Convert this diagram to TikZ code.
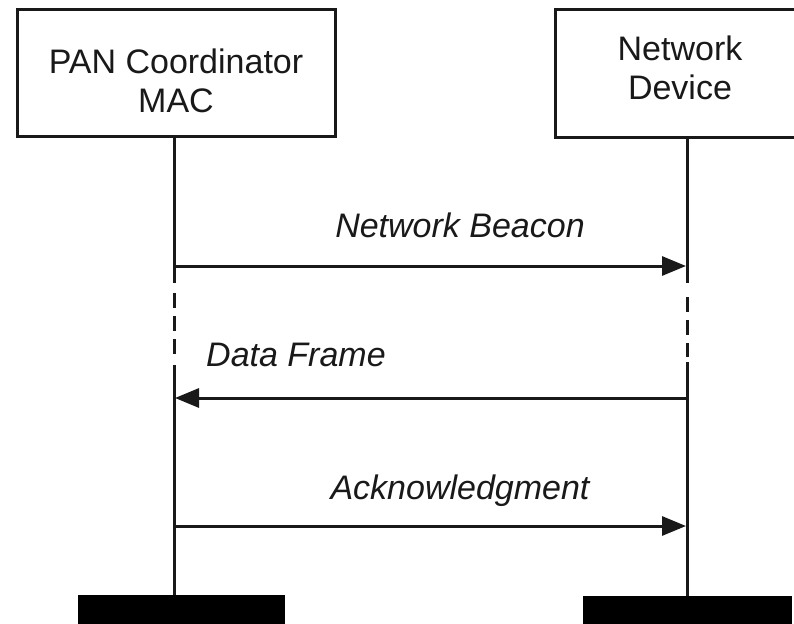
\documentclass[tikz,border=0pt]{standalone}
\usepackage{fontspec}
\setmainfont{Liberation Sans}
\usetikzlibrary{arrows.meta}
\begin{document}
\begin{tikzpicture}[x=1pt,y=-1pt,
  ln/.style={line width=3pt,draw=black!90},
  actor/.style={draw=black!90,line width=3pt,rectangle,inner sep=0pt},
  boxtext/.style={font=\fontsize{34}{39.5}\selectfont,align=center,inner sep=0pt,text=black!90},
  msg/.style={font=\fontsize{34}{40}\selectfont\itshape,inner sep=0pt,text=black!90},
  arr/.style={ln,-{Triangle[length=24pt,width=19pt]}},
  bar/.style={fill=black,inner sep=0pt,rectangle},
  dsh/.style={ln,dash pattern=on 15pt off 8pt}]
\useasboundingbox (0,0) rectangle (794,623);
\clip (0,0) rectangle (794,623);
\fill[white] (0,0) rectangle (794,623);
% actor boxes
\node[actor,minimum width=318pt,minimum height=126pt] (pan) at (176,73) {};
\node[actor,minimum width=250pt,minimum height=127pt] (dev) at (680,73.5) {};
\node[boxtext] (pantxt) at (176,81) {PAN Coordinator\\MAC};
\node[boxtext] (devtxt) at (680,68) {Network\\Device};
% bottom bars
\node[bar,minimum width=207pt,minimum height=40pt] (barL) at (181.5,615) {};
\node[bar,minimum width=209pt,minimum height=40pt] (barR) at (687.5,616) {};
% lifeline coordinates
\coordinate (Ltop) at (174,136);
\coordinate (La) at (174,283);
\coordinate (Lb) at (174,293);
\coordinate (Lc) at (174,358);
\coordinate (Ld) at (174,365);
\coordinate (Lbot) at (174,595);
\coordinate (Rtop) at (687,137);
\coordinate (Ra) at (687,283);
\coordinate (Rb) at (687,297);
\coordinate (Rc) at (687,357);
\coordinate (Rd) at (687,362);
\coordinate (Rbot) at (687,596);
\draw[ln] (Ltop) -- (La);
\draw[dsh] (Lb) -- (Lc);
\draw[ln] (Ld) -- (Lbot);
\draw[ln] (Rtop) -- (Ra);
\draw[dsh] (Rb) -- (Rc);
\draw[ln] (Rd) -- (Rbot);
% message anchors
\coordinate (m1L) at (174,266);
\coordinate (m1R) at (686,266);
\coordinate (m2R) at (687,398);
\coordinate (m2L) at (175,398);
\coordinate (m3L) at (174,526);
\coordinate (m3R) at (686,526);
\draw[arr] (m1L) -- (m1R);
\draw[arr] (m2R) -- (m2L);
\draw[arr] (m3L) -- (m3R);
% labels
\node[msg,anchor=base] (l1) at (460,237) {Network Beacon};
\node[msg,anchor=base west] (l2) at (206,366) {Data Frame};
\node[msg,anchor=base] (l3) at (460,499) {Acknowledgment};
\end{tikzpicture}
\end{document}
